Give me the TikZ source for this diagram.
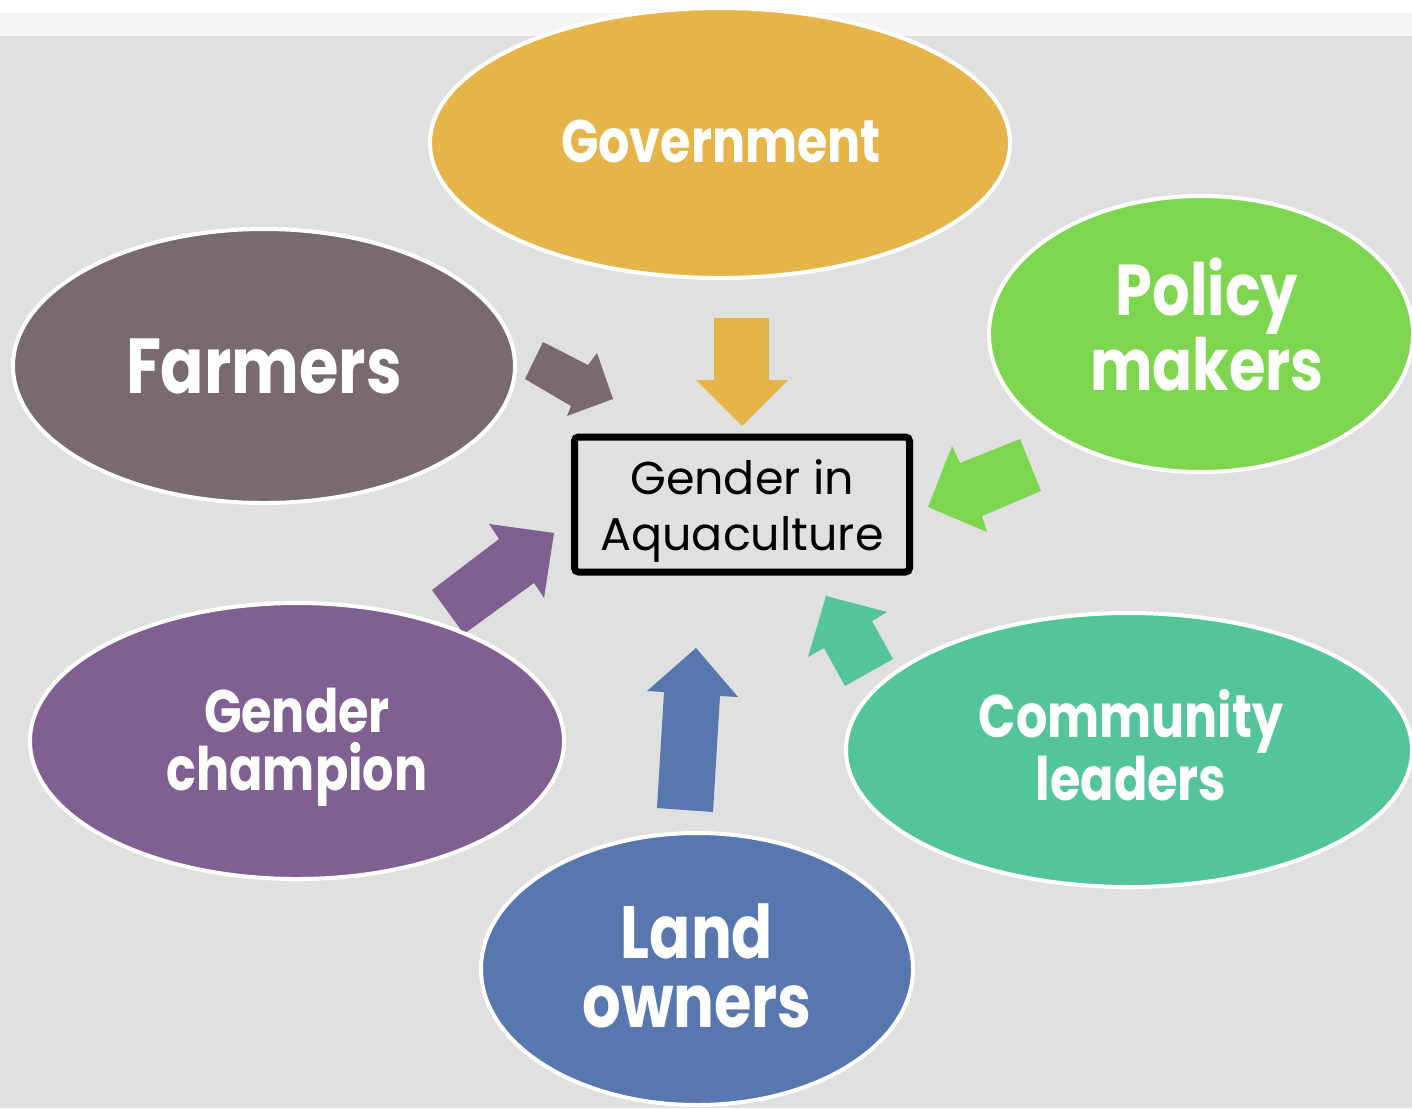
\documentclass[tikz,border=0pt]{standalone}
\usepackage{fontspec}
\setmainfont{Poppins}
\newfontfamily\lblfont[FakeStretch=0.82]{Poppins}
\usetikzlibrary{shapes.geometric}
\definecolor{bgc}{HTML}{E0E0E0}
\definecolor{stripc}{HTML}{F5F5F5}
\definecolor{govc}{HTML}{E6B54A}
\definecolor{farmc}{HTML}{786A6D}
\definecolor{polc}{HTML}{7ED650}
\definecolor{champc}{HTML}{7F6091}
\definecolor{commc}{HTML}{54C49B}
\definecolor{landc}{HTML}{5877AE}
\tikzset{
  blob/.style={ellipse, draw=white, line width=2pt, inner sep=0pt},
  lbl/.style={anchor=base, text=white, align=center, inner sep=0pt}
}
\begin{document}
\begin{tikzpicture}[x=0.5pt,y=-0.5pt]
\useasboundingbox (0,0) rectangle (1412,1108);
\fill[white] (0,0) rectangle (1412,13);
\fill[stripc] (0,13) rectangle (1412,36);
\fill[bgc] (0,36) rectangle (1412,1108);

% block arrows
\fill[farmc] (525,379) -- (543,342) -- (588,365) -- (597,353) -- (613,399) -- (567,416) -- (571,406) -- cycle;
\fill[govc] (714,318) -- (769,318) -- (769,380) -- (788,380) -- (742,426) -- (696,380) -- (714,380) -- cycle;
\fill[polc] (928,507) -- (952,446) -- (960,463) -- (1020,439) -- (1041,491) -- (982,516) -- (987,532) -- cycle;
\fill[champc] (432,590) -- (499,539) -- (489,524) -- (554,533) -- (544,598) -- (534,583) -- (464,634) -- cycle;
\fill[landc] (696,648) -- (738,697) -- (720,696) -- (713,812) -- (657,808) -- (664,692) -- (647,691) -- cycle;
\fill[commc] (826,596) -- (887,612) -- (872,621) -- (893,659) -- (845,686) -- (824,648) -- (808,657) -- cycle;

% ellipses
\node[blob, fill=govc, minimum width=290pt, minimum height=135pt] (gov) at (720,143) {};
\node[blob, fill=farmc, minimum width=251pt, minimum height=137pt] (farm) at (264,366) {};
\node[blob, fill=polc, minimum width=212pt, minimum height=138pt] (pol) at (1201,334) {};
\node[blob, fill=champc, minimum width=267pt, minimum height=138pt] (champ) at (297,741) {};
\node[blob, fill=commc, minimum width=283pt, minimum height=137pt] (comm) at (1129,750) {};
\node[blob, fill=landc, minimum width=216pt, minimum height=136pt] (land) at (697,969) {};

% labels (base anchor = last line's baseline)
\node[lbl, font=\lblfont\fontsize{30}{36}\selectfont\bfseries] (govt) at (721,162) {Government};
\node[lbl, font=\lblfont\fontsize{39}{46}\selectfont\bfseries] (farmt) at (264,393) {Farmers};
\node[lbl, font=\lblfont\fontsize{36}{33.5}\selectfont\bfseries] (polt) at (1207,390) {Policy\\makers};
\node[lbl, font=\lblfont\fontsize{30}{29}\selectfont\bfseries] (champt) at (297,790) {Gender\\champion};
\node[lbl, font=\lblfont\fontsize{30}{28.5}\selectfont\bfseries] (commt) at (1131,800) {Community\\leaders};
\node[lbl, font=\lblfont\fontsize{37}{34.5}\selectfont\bfseries] (landt) at (697,1027) {Land\\owners};

% centre box
\node[draw=black, line width=3.5pt, rounded corners=2pt, minimum width=167.5pt, minimum height=67.5pt, inner sep=0pt] (box) at (742,504.5) {};
\node[anchor=base, align=center, inner sep=0pt, font=\fontsize{23}{28}\selectfont] (boxt) at (742,550) {Gender in\\Aquaculture};
\end{tikzpicture}
\end{document}
